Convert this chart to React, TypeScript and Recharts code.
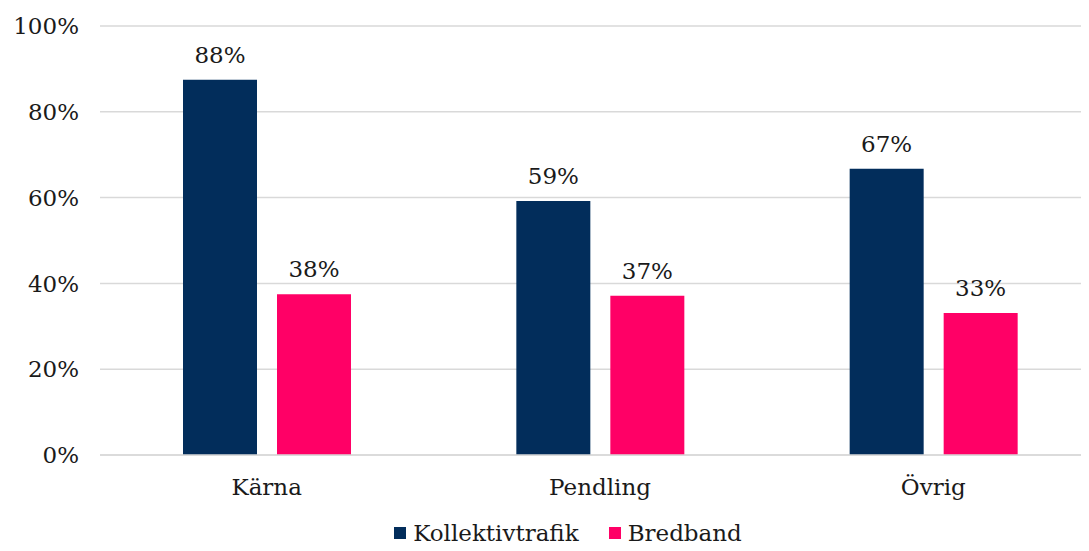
import { BarChart, Bar, XAxis, YAxis, CartesianGrid, Legend, LabelList } from 'recharts';

const categories = ['Kärna', 'Pendling', 'Övrig'];
const kollektivtrafik = [0.875, 0.592, 0.667];
const bredband = [0.375, 0.371, 0.331];
const yTicks = [0, 0.2, 0.4, 0.6, 0.8, 1];
const series = [
  { key: 'Kollektivtrafik', color: '#022d5b' },
  { key: 'Bredband', color: '#ff0066' },
];

const data = categories.map((name, i) => ({
  name,
  Kollektivtrafik: kollektivtrafik[i],
  Bredband: bredband[i],
}));

const FONT = '"DejaVu Serif", Georgia, serif';
const TEXT = '#1a1a1a';
const pct = (v: unknown) => `${Math.round(Number(v) * 100)}%`;

function LegendContent() {
  return (
    <div
      style={{
        height: 24,
        display: 'flex',
        justifyContent: 'center',
        alignItems: 'center',
        gap: 30,
        fontSize: 23,
        fontFamily: FONT,
        color: TEXT,
        paddingLeft: 28,
      }}
    >
      {series.map((s) => (
        <span key={s.key} style={{ display: 'flex', alignItems: 'center', lineHeight: '24px' }}>
          <span style={{ width: 12, height: 12, background: s.color, marginRight: 7, display: 'inline-block' }} />
          {s.key}
        </span>
      ))}
    </div>
  );
}

export default function App(): React.ReactElement {
  return (
    <div style={{ width: 1081, height: 543, overflow: 'hidden', fontFamily: FONT }}>
      <BarChart
        width={1092}
        height={543}
        data={data}
        margin={{ top: 18, right: 0, bottom: 0, left: 0 }}
        barSize={74}
        barGap={20}
      >
        <CartesianGrid vertical={false} stroke="#d9d9d9" strokeWidth={1.5} />
        <XAxis
          dataKey="name"
          axisLine={{ stroke: '#d9d9d9', strokeWidth: 1.5 }}
          tickLine={false}
          tickSize={0}
          tickMargin={24}
          height={60}
          tick={{ fontSize: 23, fill: TEXT, fontFamily: FONT }}
        />
        <YAxis
          width={92}
          domain={[0, 1]}
          ticks={yTicks}
          tickFormatter={pct}
          axisLine={false}
          tickLine={false}
          tickSize={0}
          tickMargin={21}
          tick={{ fontSize: 23, fill: TEXT, fontFamily: FONT }}
        />
        <Legend
          verticalAlign="bottom"
          height={36}
          wrapperStyle={{ top: 513, bottom: 'auto', left: 0, width: 1092 }}
          content={<LegendContent />}
        />
        {series.map((s) => (
          <Bar key={s.key} dataKey={s.key} fill={s.color} isAnimationActive={false}>
            <LabelList
              dataKey={s.key}
              position="top"
              offset={17}
              formatter={pct}
              style={{ fontSize: 23, fill: TEXT, fontFamily: FONT }}
            />
          </Bar>
        ))}
      </BarChart>
    </div>
  );
}
